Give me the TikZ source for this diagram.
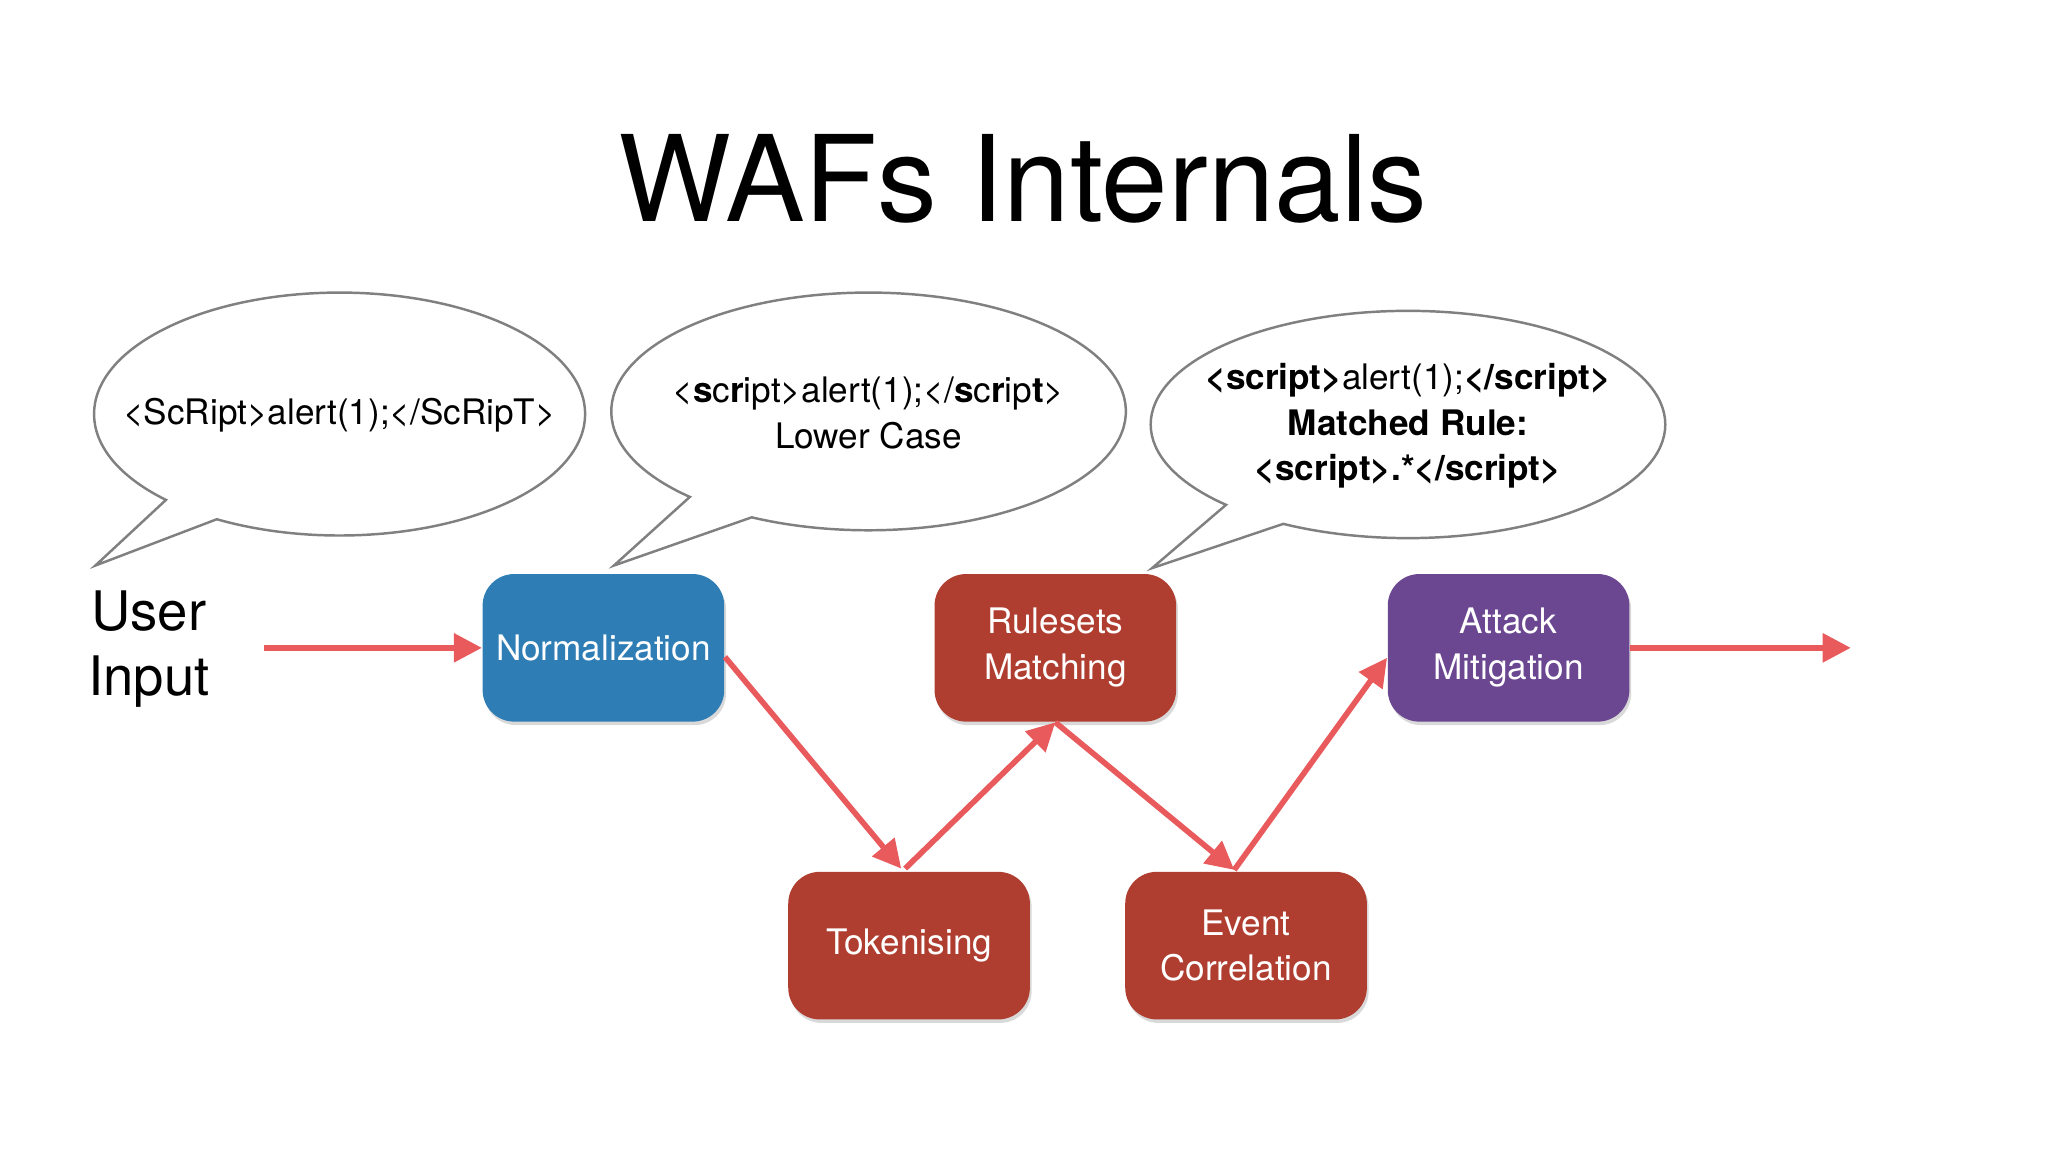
\documentclass[tikz,border=0pt]{standalone}
\usepackage{fontspec}
\setmainfont{TeX Gyre Heros}
\usetikzlibrary{arrows.meta,shadows}
\definecolor{nblue}{HTML}{2E7DB5}
\definecolor{nred}{HTML}{B03E30}
\definecolor{npurple}{HTML}{6B4691}
\definecolor{arr}{HTML}{E85A5C}
\begin{document}
\begin{tikzpicture}[x=0.01306cm,y=-0.01306cm,
  box/.style={rounded corners=9pt,minimum width=185*0.01306cm,minimum height=113*0.01306cm,
    text=white,align=center,font=\fontsize{10}{13}\selectfont,
    drop shadow={shadow xshift=0.5pt,shadow yshift=-1pt,opacity=0.3}},
  con/.style={draw=arr,line width=1.6pt,-{Triangle[length=8pt,width=8pt]}},
  bub/.style={draw=black!50,line width=0.7pt,fill=white},
  btxt/.style={align=center,font=\fontsize{10}{13}\selectfont}]
\useasboundingbox (0,0) rectangle (1568,882);
\node[font=\fontsize{34}{40}\selectfont] (title) at (783,137) {WAFs Internals};
% bubbles
\draw[bub] (73,433) -- ({260+188*cos(135)},{317+93*sin(135)}) arc[start angle=135,end angle=480,x radius=188,y radius=93] -- cycle;
\draw[bub] (470,433) -- ({665+197*cos(134)},{315+91*sin(134)}) arc[start angle=134,end angle=477,x radius=197,y radius=91] -- cycle;
\draw[bub] (882,435) -- ({1078+197*cos(135)},{325+87*sin(135)}) arc[start angle=135,end angle=479,x radius=197,y radius=87] -- cycle;
\node[btxt] (b1) at (260,318) {<ScRipt>alert(1);</ScRipT>};
\node[btxt] (b2) at (665,316) {<\textbf{s}c\textbf{r}ipt>alert(1);</\textbf{s}c\textbf{r}ip\textbf{t}>\\Lower Case};
\node[btxt] (b3) at (1078,326) {\textbf{<script>}alert(1);\textbf{</script>}\\\textbf{Matched Rule:}\\\textbf{<script>.*</script>}};
% nodes
\node[align=center,font=\fontsize{15.5}{18.5}\selectfont] (user) at (114,497) {User\\Input};
\coordinate (uin) at (202,496);
\node[box,fill=nblue] (norm) at (462,496) {Normalization};
\node[box,fill=nred] (rule) at (808,496) {Rulesets\\Matching};
\node[box,fill=npurple] (att) at (1155,496) {Attack\\Mitigation};
\node[box,fill=nred] (tok) at (696,724) {Tokenising};
\node[box,fill=nred] (ev) at (954,724) {Event\\Correlation};
\coordinate (out) at (1417,496);
% connectors
\draw[con] (uin) -- (norm.west);
\draw[con] (norm.east) ++(0,7) -- (690,665);
\draw[con] (693,665) -- (rule.south);
\draw[con] (rule.south) -- (945,666);
\draw[con] (945,666) -- ([yshift=-0.1cm]att.west);
\draw[con] (att.east) -- (out);
\end{tikzpicture}
\end{document}
